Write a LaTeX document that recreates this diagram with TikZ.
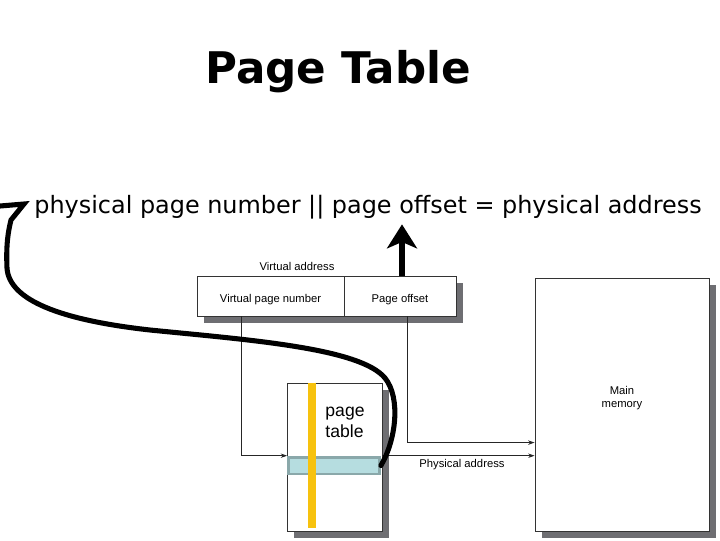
\documentclass[tikz,border=0pt]{standalone}
\usepackage{fontspec}
\setmainfont{Liberation Sans}
\newfontfamily\titlefont{DejaVu Sans}
\usetikzlibrary{arrows.meta,calc,shadows}

\definecolor{boxshadow}{HTML}{6E6E72}
\definecolor{rowfill}{HTML}{B6DDE0}
\definecolor{rowdraw}{HTML}{8AA8AA}
\definecolor{baryellow}{HTML}{F7C20E}

\begin{document}
\begin{tikzpicture}[
    x=0.025cm, y=-0.025cm,
    shadowbox/.style={draw=black!80, fill=white, line width=0.6pt, inner sep=0pt,
        drop shadow={shadow xshift=0.17cm, shadow yshift=-0.17cm, fill=boxshadow, opacity=1}},
    fieldbox/.style={shadowbox, minimum height=1cm, font=\fontsize{8}{9.5}\selectfont,
        text height=9pt, text depth=0pt},
    lbl/.style={font=\fontsize{8}{9.5}\selectfont, inner sep=1pt, align=center},
    thinarrow/.style={-{Stealth[length=1.6mm, width=1.1mm]}, line width=0.6pt, draw=black!85},
    bigarrow/.style={-{Stealth[length=6mm, width=7.5mm, inset=1.6mm]}, line width=3.6pt},
    bigcurve/.style={line width=3.6pt, line cap=round, line join=miter},
]
\useasboundingbox (0,0) rectangle (720,540);

\node[font=\titlefont\bfseries\fontsize{31}{36}\selectfont] (title) at (338,72) {Page Table};
\node[font=\titlefont\fontsize{17}{20}\selectfont, inner sep=0pt] (formula) at (368,207)
  {physical page number || page offset = physical address};

\node[fieldbox, minimum width=3.675cm] (vpn) at (270.5,296) {Virtual page number};
\node[fieldbox, minimum width=2.8cm] (off) at (400,296) {Page offset};
\node[lbl, anchor=south] (vaddr) at (297,272) {Virtual address};

\node[shadowbox, minimum width=4.35cm, minimum height=6.325cm] (mem) at (622,404.5) {};
\node[lbl] (memtext) at (622,398) {Main\\memory};

\node[shadowbox, minimum width=2.375cm, minimum height=3.7cm] (pt) at (334.5,457) {};
\node[draw=rowdraw, fill=rowfill, line width=2pt, minimum width=2.275cm,
      minimum height=0.42cm, inner sep=0pt] (row) at (334,465.5) {};
\draw[baryellow, line width=6pt] (pt.north -| 312,0) -- ([yshift=0.08cm]pt.south -| 312,0);
\node[font=\fontsize{12.5}{15}\selectfont, align=left] (pttext) at (345,422) {page\\table};

\node[lbl] (paddr) at (462,465) {Physical address};

\draw[thinarrow] ($(vpn.south west)!0.3!(vpn.south east)$) |- (row.north west);
\draw[thinarrow] ($(off.south west)!0.57!(off.south east)$) |- ($(mem.south west)!0.35!(mem.north west)$);
\draw[thinarrow] (row.north -| pt.east) -- (row.north -| mem.west);

\draw[bigarrow] ([xshift=0.05cm]off.north) -- ([xshift=0.05cm,yshift=1.28cm]off.north);

\coordinate (hook) at (24,204);
\draw[bigcurve] (row.east) .. controls (396,440) and (401,398) .. (385,378)
  .. controls (360,348) and (250,340) .. (150,330)
  .. controls (60,320) and (9,300) .. (7,268)
  .. controls (6,245) and (8,232) .. (11,220) -- (hook) -- (0,206);
\end{tikzpicture}
\end{document}
